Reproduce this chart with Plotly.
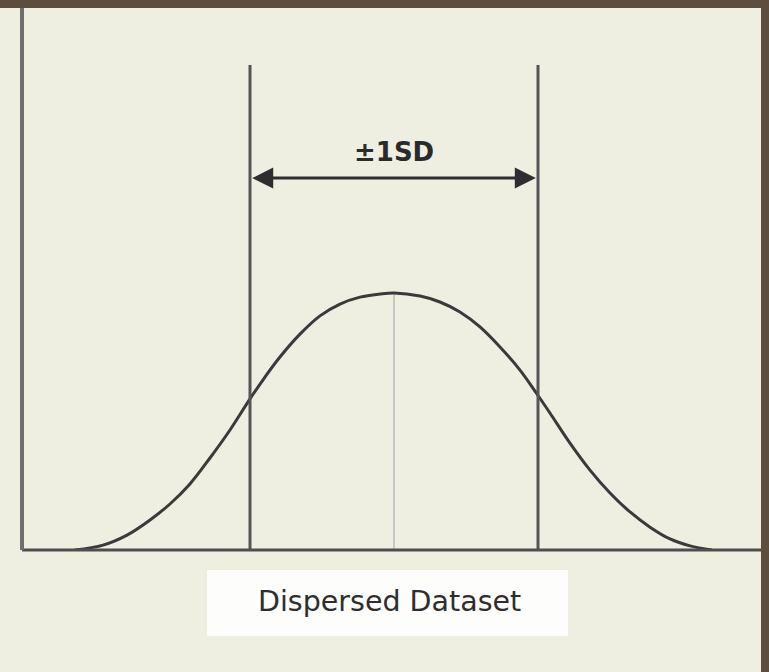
import plotly.graph_objects as go

# Curve values (x in SD units, y relative height)
curve_x = [-2.215, -2.021, -1.854, -1.694, -1.556, -1.417, -1.278, -1.139, -1.000,
           -0.896, -0.792, -0.653, -0.514, -0.375, -0.236, -0.097, 0.0, 0.181, 0.319,
           0.458, 0.597, 0.736, 0.875, 0.993, 1.083, 1.222, 1.361, 1.500, 1.639,
           1.778, 1.917, 2.056, 2.208]
curve_y = [0.0, 0.019, 0.058, 0.117, 0.179, 0.257, 0.358, 0.467, 0.588,
           0.673, 0.751, 0.840, 0.911, 0.957, 0.984, 0.996, 1.0, 0.988, 0.965,
           0.926, 0.868, 0.790, 0.700, 0.607, 0.533, 0.416, 0.311, 0.222, 0.148,
           0.089, 0.043, 0.016, 0.0]
mean_x = 0.0
peak_y = 1.0
sd_marks = [-1.0, 1.0]
sd_line_top = 1.887
arrow_y = 1.447
label_y = 1.549
label_text = "±1SD"
caption_text = "Dispersed Dataset"

BG = "#eeeee1"
BORDER = "#5b4e3f"
ARROW = "#2e2e2e"

W, H = 769, 672
ml, mr, mt, mb = 22, 8, 8, 122
pw, ph = W - ml - mr, H - mt - mb

fig = go.Figure()
fig.add_trace(go.Scatter(x=curve_x, y=curve_y, mode="lines",
                         line=dict(color="#3a3a3a", width=3, shape="spline", smoothing=1.0),
                         hoverinfo="skip", showlegend=False))

shapes = []
# mean line
shapes.append(dict(type="line", xref="x", yref="y", x0=mean_x, x1=mean_x, y0=0, y1=peak_y,
                   line=dict(color="#c8c8c8", width=2), layer="below"))
# SD vertical lines
for sx in sd_marks:
    shapes.append(dict(type="line", xref="x", yref="y", x0=sx, x1=sx, y0=0, y1=sd_line_top,
                       line=dict(color="#555555", width=3)))
# arrow shaft
shapes.append(dict(type="line", xref="x", yref="y", x0=sd_marks[0] * 0.9, x1=sd_marks[1] * 0.9,
                   y0=arrow_y, y1=arrow_y, line=dict(color=ARROW, width=3)))
# axes lines
shapes.append(dict(type="line", xref="paper", yref="paper", x0=0, x1=1, y0=0, y1=0,
                   line=dict(color="#4e4e4e", width=3)))
shapes.append(dict(type="line", xref="paper", yref="paper", x0=0, x1=0, y0=0, y1=1,
                   line=dict(color="#6e6e6e", width=4)))
# caption box
shapes.append(dict(type="rect", xref="paper", yref="paper",
                   x0=(207 - ml) / pw, x1=(568 - ml) / pw,
                   y0=-(636 - (H - mb)) / ph, y1=-(570 - (H - mb)) / ph,
                   fillcolor="#fdfdfb", line=dict(width=0)))
# borders
shapes.append(dict(type="rect", xref="paper", yref="paper", x0=-0.1, x1=1.1,
                   y0=1, y1=1 + 0.05, fillcolor=BORDER, line=dict(width=0)))
shapes.append(dict(type="rect", xref="paper", yref="paper", x0=1, x1=1.1,
                   y0=-0.3, y1=1.1, fillcolor=BORDER, line=dict(width=0)))

annotations = []
for sx in sd_marks:
    annotations.append(dict(x=sx * 0.985, y=arrow_y, ax=sx * 0.86, ay=arrow_y,
                            xref="x", yref="y", axref="x", ayref="y", text="",
                            showarrow=True, arrowhead=2, arrowsize=1.4, arrowwidth=3,
                            arrowcolor=ARROW, standoff=0))
annotations.append(dict(x=mean_x, y=label_y, xref="x", yref="y", text="<b>" + label_text + "</b>",
                        showarrow=False, font=dict(family="DejaVu Sans", size=26, color="#2a2a2a")))
annotations.append(dict(x=(389 - ml) / pw, y=-(620 - (H - mb)) / ph, xref="paper", yref="paper",
                        text=caption_text, showarrow=False,
                        font=dict(family="DejaVu Sans", size=28.5, color="#2e2e2e")))

fig.update_layout(
    width=W, height=H,
    margin=dict(l=ml, r=mr, t=mt, b=mb, pad=0),
    paper_bgcolor=BG, plot_bgcolor=BG,
    shapes=shapes, annotations=annotations,
    xaxis=dict(range=[(ml - 394) / 144, (W - mr - 394) / 144], visible=False, fixedrange=True),
    yaxis=dict(range=[0, (H - mb - mt) / 257], visible=False, fixedrange=True),
    showlegend=False,
)

fig.write_html("out.html", config={"displayModeBar": False},
               post_script="document.body.style.margin='0px';document.body.style.overflow='hidden';document.body.style.background='" + BG + "';")
